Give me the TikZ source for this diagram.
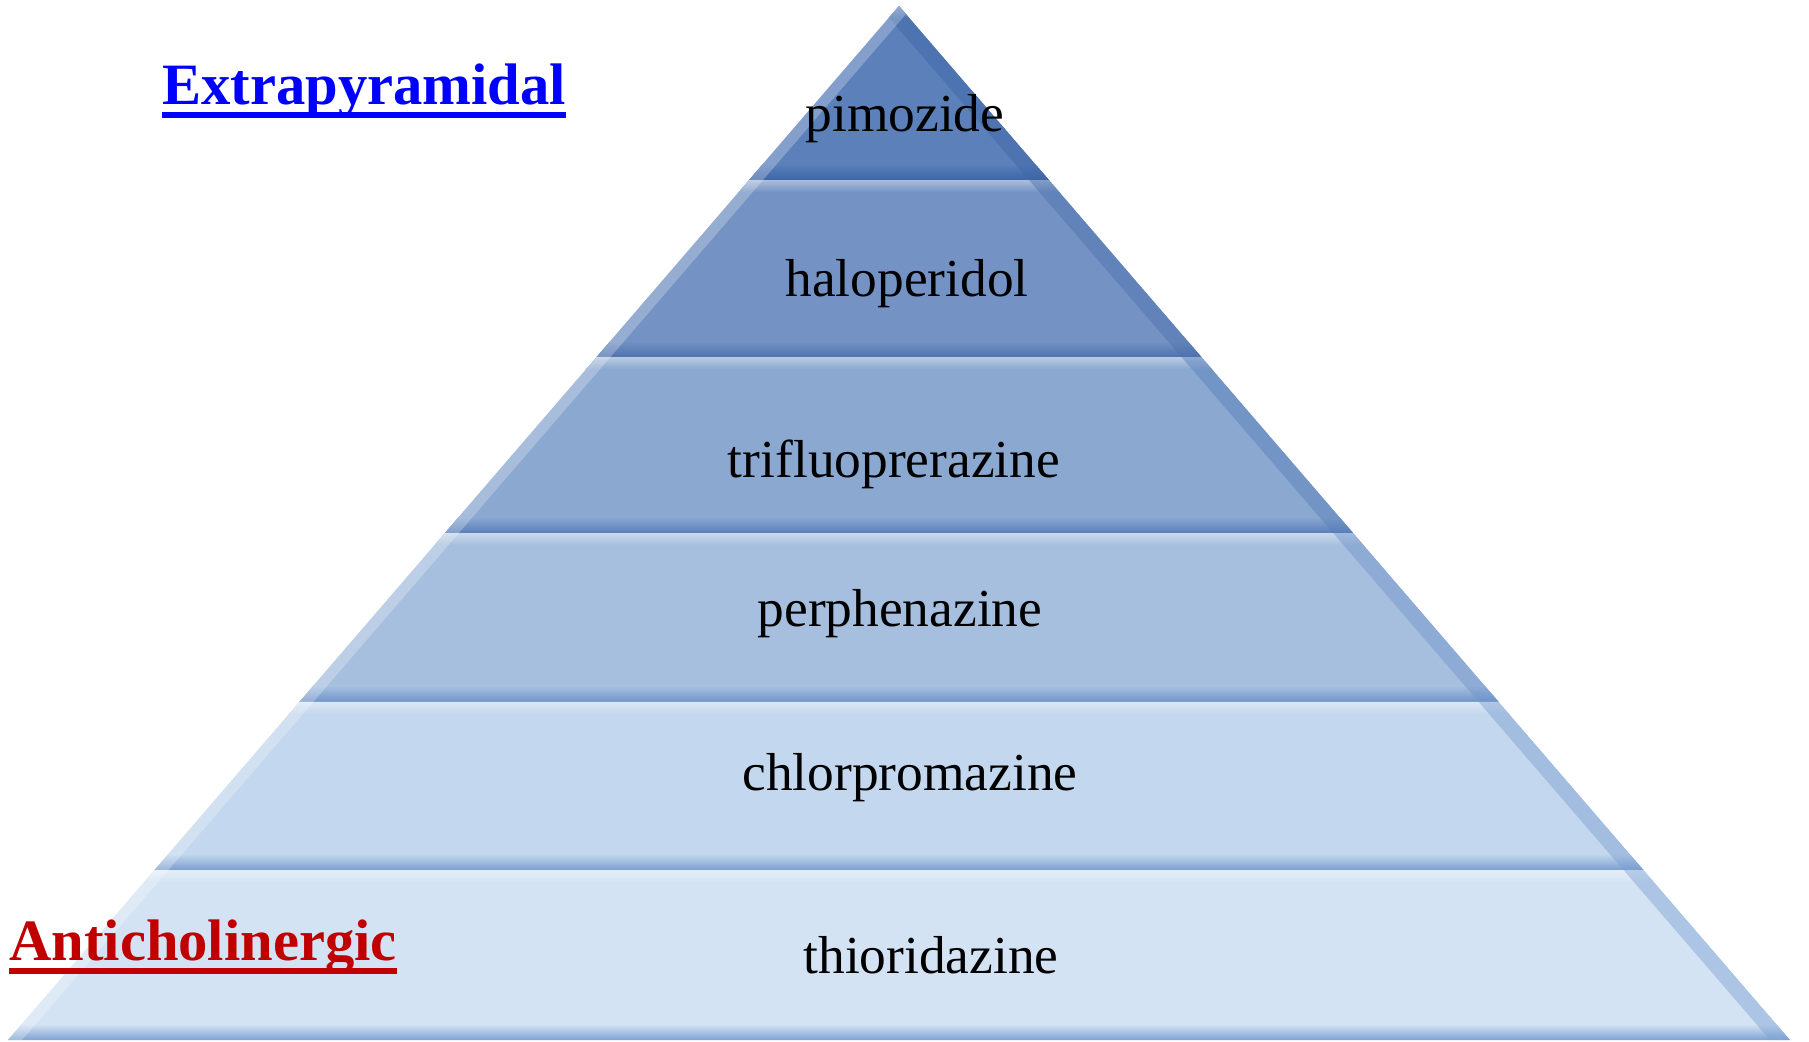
\documentclass[tikz,border=0pt]{standalone}
\usepackage{fontspec}
\setmainfont{Liberation Serif}
\usetikzlibrary{calc}
\definecolor{bandA}{HTML}{5B80BA}
\definecolor{bandB}{HTML}{7492C3}
\definecolor{bandC}{HTML}{8AA8D0}
\definecolor{bandD}{HTML}{A6BFDF}
\definecolor{bandE}{HTML}{C3D7EE}
\definecolor{bandF}{HTML}{D4E3F3}
\definecolor{darkA}{HTML}{3D66A6}
\definecolor{darkB}{HTML}{4D72AE}
\definecolor{darkC}{HTML}{587EBA}
\definecolor{darkD}{HTML}{6F94C8}
\definecolor{darkE}{HTML}{7A9ECF}
\definecolor{darkF}{HTML}{7EA2D2}
\definecolor{extrablue}{HTML}{0000FF}
\definecolor{antired}{HTML}{C00000}

\begin{document}
\begin{tikzpicture}[x=0.5pt, y=-0.5pt,
  lbl/.style={inner sep=0pt, font=\fontsize{26.7}{30}\selectfont},
  hdr/.style={inner sep=0pt, anchor=base west, font=\fontsize{29.3}{34}\selectfont\bfseries}]
\useasboundingbox (0,0) rectangle (1809,1042);

%pyramid corners
  \coordinate (top) at (899,6);
  \coordinate (bl) at (8,1040);
  \coordinate (br) at (1790,1040);

%bands
  \foreach \a/\b/\c/\d in {0/0.1683/bandA/darkA, 0.1683/0.3395/bandB/darkB,
      0.3395/0.5097/bandC/darkC, 0.5097/0.6731/bandD/darkD,
      0.6731/0.8356/bandE/darkE, 0.8356/1/bandF/darkF} {
    \pgfmathsetmacro\yt{6+\a*1034}
    \pgfmathsetmacro\yb{6+\b*1034}
    \begin{scope}
      \clip ($(top)!\a!(bl)$) -- ($(top)!\b!(bl)$) -- ($(top)!\b!(br)$)
        -- ($(top)!\a!(br)$) -- cycle;
      \fill[\c] (0,\yt) rectangle (1809,\yb);
      \shade[top color=white!40!\c, bottom color=\c] (0,\yt) rectangle (1809,\yt+12);
      \shade[top color=\c, bottom color=\d] (0,\yb-16) rectangle (1809,\yb);
      % right bevel
      \fill[\d, opacity=.45] ($(top)!\a!(br)$) -- ($(top)!\b!(br)$)
        -- ($(top)!\b!(br)+(-20,0)$) -- ($(top)!\a!(br)+(-20,0)$) -- cycle;
      % left highlight
      \fill[white, opacity=.25] ($(top)!\a!(bl)$) -- ($(top)!\b!(bl)$)
        -- ($(top)!\b!(bl)+(14,0)$) -- ($(top)!\a!(bl)+(14,0)$) -- cycle;
    \end{scope}
  }

%drug names
  \node[lbl] (pim) at (905,119) {pimozide};
  \node[lbl] (hal) at (907,284) {haloperidol};
  \node[lbl] (tri) at (894,464) {trifluoprerazine};
  \node[lbl] (per) at (900,614) {perphenazine};
  \node[lbl] (chl) at (910,778) {chlorpromazine};
  \node[lbl] (thi) at (931,955) {thioridazine};

%side labels
  \node[hdr, text=extrablue] (ext) at (162,105) {Extrapyramidal};
  \draw[extrablue, line width=2.6pt] ([yshift=-5pt]ext.base west) -- ([yshift=-5pt]ext.base east);
  \node[hdr, text=antired] (ant) at (9,960) {Anticholinergic};
  \draw[antired, line width=2.6pt] ([yshift=-5.5pt]ant.base west) -- ([yshift=-5.5pt]ant.base east);
\end{tikzpicture}
\end{document}
